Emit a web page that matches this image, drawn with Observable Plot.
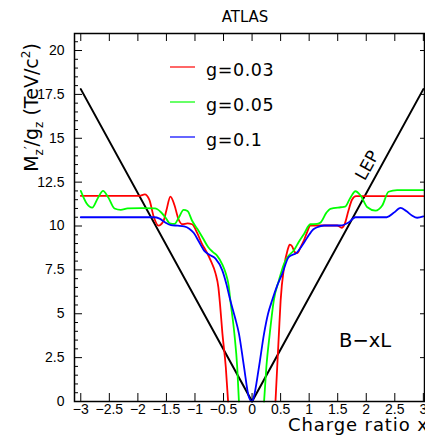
<!DOCTYPE html>
<html><head><meta charset="utf-8">
<script src="https://cdn.jsdelivr.net/npm/d3@7"></script>
<script src="https://cdn.jsdelivr.net/npm/@observablehq/plot@0.6"></script>
<style>body{margin:0;background:#fff}svg{display:block}</style>
</head><body><div id="chart"></div>
<script>
// ---- data ----
const seriesNames = ["g=0.03", "g=0.05", "g=0.1"];
const seriesColors = ["#ff0000", "#00ff00", "#0000ff"];

const redX = [-3.0,-1.97,-1.88,-1.80,-1.72,-1.64,-1.55,-1.50,-1.43,-1.36,-1.29,-1.22,-1.13,-1.05,-0.96,-0.88,-0.81,-0.72,-0.64,-0.59,-0.56,-0.52,-0.46,-0.42,
  null,
  0.41,0.44,0.47,0.50,0.56,0.62,0.66,0.70,0.75,0.79,0.85,0.91,0.97,1.02,1.49,1.57,1.62,1.69,1.75,1.82,3.0];
const redY = [11.72,11.72,11.8,11.5,10.5,10.02,10.3,10.9,11.68,11.2,10.4,10.1,10.15,10.1,9.6,9.0,8.6,8.0,7.3,6.5,5.5,3.9,1.95,0,
  null,
  0,1.95,3.87,5.75,7.65,8.6,8.94,8.85,8.5,8.45,8.8,9.2,9.7,10.03,10.03,9.9,10.1,10.9,11.5,11.7,11.7];

const greenX = [-3.0,-2.90,-2.80,-2.70,-2.61,-2.52,-2.41,-2.30,-2.18,-1.94,-1.70,-1.60,-1.52,-1.44,-1.36,-1.28,-1.20,-1.13,-1.05,-0.96,-0.86,-0.77,-0.68,-0.61,-0.52,-0.46,-0.41,-0.38,-0.31,-0.26,-0.23,
  null,
  0.21,0.25,0.31,0.38,0.47,0.56,0.64,0.73,0.82,0.91,1.02,1.14,1.20,1.30,1.37,1.55,1.63,1.72,1.81,1.90,2.02,2.16,2.28,2.39,2.54,3.0];
const greenY = [12.0,11.3,11.05,11.6,12.0,11.64,11.0,10.92,11.0,11.02,11.0,10.8,10.5,10.15,10.12,10.5,10.92,10.85,10.3,9.84,9.3,8.8,8.5,8.3,7.8,7.29,6.6,5.75,3.87,1.95,0,
  null,
  0,1.95,3.87,5.75,6.9,7.85,8.3,8.6,9.1,9.55,10.1,10.12,10.2,10.75,10.98,11.07,11.1,11.6,11.98,11.74,11.07,10.88,11.17,11.95,12.05,12.05];

const blueX = [-3.0,-1.72,-1.62,-1.52,-1.42,-1.30,-1.19,-1.10,-1.02,-0.93,-0.84,-0.74,-0.64,-0.52,-0.45,-0.38,-0.30,-0.23,-0.14,-0.06,0.0,
  0.03,0.12,0.21,0.28,0.35,0.44,0.53,0.64,0.79,0.88,0.97,1.07,1.14,1.26,1.55,1.69,1.81,2.36,2.48,2.60,2.70,2.80,2.89,3.0];
const blueY = [10.5,10.5,10.42,10.2,10.05,10.02,9.98,9.85,9.6,9.1,8.6,8.35,8.14,7.46,6.7,5.75,4.8,3.87,1.95,0.3,0,
  0.25,1.95,3.87,5.0,5.75,6.6,7.29,8.22,8.5,8.9,9.36,9.8,9.93,10.03,10.03,10.2,10.5,10.5,10.75,11.03,10.85,10.6,10.47,10.55];

const lepX = [-3, 0, 3];
const lepY = [17.8, 0, 17.8];

const xTicks = [-3,-2.5,-2,-1.5,-1,-0.5,0,0.5,1,1.5,2,2.5,3];
const yTicks = [0,2.5,5,7.5,10,12.5,15,17.5,20];
const yMinorTicks = [0.5,1,1.5,2,3,3.5,4,4.5,5.5,6,6.5,7,8,8.5,9,9.5,10.5,11,11.5,12,13,13.5,14,14.5,15.5,16,16.5,17,18,18.5,19,19.5,20.5];

// ---- build tables ----
function toRows(name, xs, ys) {
  return xs.map((x, i) => ({series: name, x: x, y: ys[i]}));
}
const curveRows = [
  ...toRows(seriesNames[0], redX, redY),
  ...toRows(seriesNames[1], greenX, greenY),
  ...toRows(seriesNames[2], blueX, blueY)
];
const lepRows = toRows("LEP", lepX, lepY);

const DJ = "'DejaVu Sans', sans-serif";
const fmt = d => String(d).replace("-", "\u2212");

const plot = Plot.plot({
  width: 425, height: 435,
  marginLeft: 74, marginRight: 1, marginTop: 33, marginBottom: 34,
  x: {domain: [-3.11, 3.02]},
  y: {domain: [0, 20.97]},
  color: {domain: seriesNames, range: seriesColors},
  style: {fontFamily: "'Liberation Sans', Arial, sans-serif", fontSize: "14px", color: "black", background: "white"},
  marks: [
    Plot.axisY(yMinorTicks, {anchor: "left", tickSize: -4, fill: "none", label: null}),
    Plot.axisY(yTicks, {anchor: "left", tickSize: -8, tickPadding: 18, tickFormat: fmt, label: null}),
    Plot.axisY(yTicks, {anchor: "right", tickSize: -5, fill: "none", label: null}),
    Plot.axisX(xTicks, {anchor: "bottom", tickSize: -8, tickPadding: 11, tickFormat: fmt, label: null}),
    Plot.axisX(xTicks, {anchor: "top", tickSize: -7, fill: "none", label: null}),
    Plot.line(lepRows, {x: "x", y: "y", stroke: "black", strokeWidth: 2}),
    Plot.line(curveRows, {x: "x", y: "y", z: "series", stroke: "series", strokeWidth: 1.8, curve: "monotone-x"}),
    Plot.frame({stroke: "black", strokeWidth: 1.5}),
    Plot.text(["LEP"], {x: () => 2.02, y: () => 13.45, text: d => d, rotate: -61, fontSize: 17, fontFamily: DJ, fill: "black"}),
    Plot.text(["B\u2212xL"], {x: () => 1.98, y: () => 3.45, text: d => d, fontSize: 19.5, fontFamily: DJ, fill: "black"})
  ]
});

document.getElementById("chart").appendChild(plot);
const svg = d3.select(plot);

// title
svg.append("text").attr("x", 245).attr("y", 22).attr("text-anchor", "middle")
  .style("font-family", DJ).style("font-size", "15px").attr("fill", "black").text("ATLAS");

// y-axis label
const yl = svg.append("text").attr("transform", "translate(38,107.5) rotate(-90)")
  .attr("text-anchor", "middle").style("font-family", DJ).style("font-size", "19px").attr("fill", "black");
yl.append("tspan").text("M");
yl.append("tspan").attr("dy", 5).style("font-size", "12px").text("z");
yl.append("tspan").attr("dy", -10).style("font-size", "12px").text("\u2032");
yl.append("tspan").attr("dy", 5).text("/g");
yl.append("tspan").attr("dy", 5).style("font-size", "12px").text("z");
yl.append("tspan").attr("dy", -5).text(" (TeV/c");
yl.append("tspan").attr("dy", -8).style("font-size", "12px").text("2");
yl.append("tspan").attr("dy", 8).text(")");

// x-axis label
svg.append("text").attr("x", 288).attr("y", 431).attr("text-anchor", "start")
  .style("font-family", DJ).style("font-size", "18px").style("letter-spacing", "0.9px")
  .attr("fill", "black").text("Charge ratio x");

// legend
const legendYs = [67, 102, 137];
seriesNames.forEach((name, i) => {
  svg.append("line").attr("x1", 170).attr("x2", 195).attr("y1", legendYs[i]).attr("y2", legendYs[i])
    .attr("stroke", seriesColors[i]).attr("stroke-width", 1.2);
  svg.append("text").attr("x", 206).attr("y", legendYs[i] + 8.5).attr("text-anchor", "start")
    .style("font-family", DJ).style("font-size", "17.5px").style("letter-spacing", "0.6px")
    .attr("fill", "black").text(name);
});
</script>
</body></html>
